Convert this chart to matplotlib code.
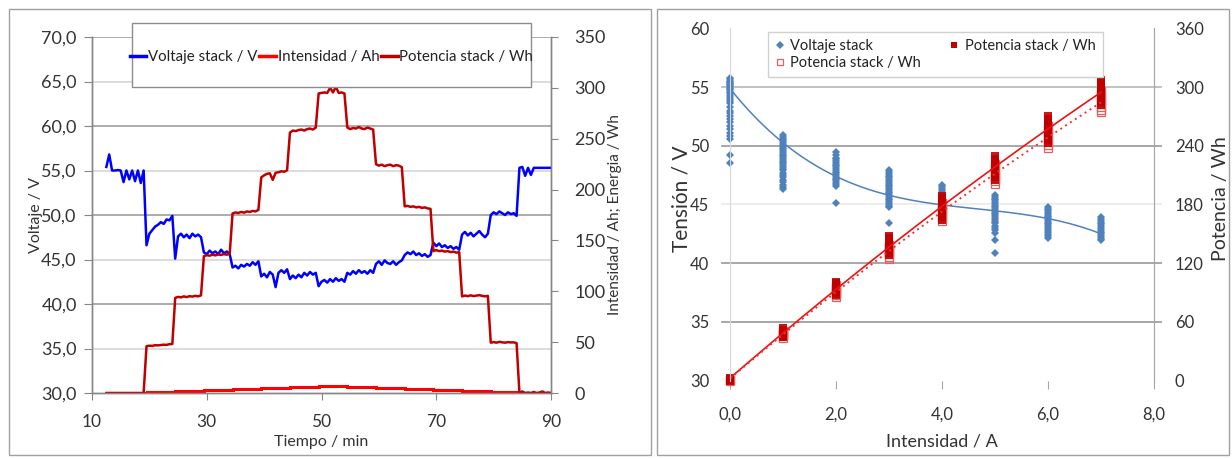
import numpy as np
import matplotlib
matplotlib.use("Agg")
import matplotlib.pyplot as plt
from matplotlib.patches import Rectangle
from matplotlib.lines import Line2D
from matplotlib.ticker import FixedLocator, FuncFormatter

plt.rcParams['font.family'] = ['Lato', 'DejaVu Sans']

W, H = 1232, 459

# ---------------- Ensayo en el tiempo (lecturas cada 0,5 min) ----------------
tiempo_min = np.arange(12.5, 90.01, 0.5)

voltaje_stack_v = [
    55.4, 56.8, 55.0, 55.0, 55.05, 55.0, 53.7, 55.0, 54.0, 55.0, 53.8, 55.0, 53.6, 55.0,
    46.6, 47.9, 48.3, 48.7, 48.9, 49.2, 49.0, 49.5, 49.4, 49.9,
    45.1, 47.6, 47.9, 47.5, 47.8, 47.4, 47.9, 47.6, 47.8, 47.5,
    45.8, 45.6, 46.0, 45.7, 45.9, 45.6, 46.1, 45.7, 45.9, 45.6,
    44.1, 44.3, 44.0, 44.4, 44.2, 44.5, 44.3, 44.7, 44.4, 44.8,
    43.1, 43.4, 43.0, 43.6, 43.3, 41.9, 43.5, 43.8, 43.5, 43.9,
    42.8, 43.2, 42.9, 43.3, 43.0, 43.5, 43.2, 43.6, 43.3, 43.5,
    42.0, 42.5, 42.7, 42.4, 42.8, 42.5, 42.9, 42.6, 42.8, 42.5,
    43.5, 43.3, 43.7, 43.4, 43.8, 43.5, 43.7, 43.4, 43.8, 43.5,
    44.5, 44.8, 44.4, 44.9, 44.6, 44.5, 44.8, 44.4, 44.7, 44.9,
    45.5, 45.8, 45.6, 45.9, 45.5, 45.7, 45.4, 45.6, 45.3, 45.5,
    46.9, 46.5, 46.8, 46.4, 46.6, 46.3, 46.5, 46.2, 46.4, 46.1,
    47.8, 48.1, 47.7, 48.0, 47.6, 47.9, 48.2, 47.8, 47.5, 47.9,
    50.0, 50.3, 50.1, 50.4, 50.2, 50.0, 50.3, 50.1, 50.2, 49.9,
    55.3, 55.4, 54.4, 55.3, 54.5, 55.3, 55.3, 55.3, 55.3, 55.3, 55.3, 55.3,
]

potencia_stack_wh = [
    0, 0, 0, 0, 0, 0, 0, 0, 0, 0, 0, 0, 0, 0,
    46.0, 46.5, 46.3, 47.0, 46.8, 47.2, 47.5, 47.3, 48.0, 48.2,
    93.5, 94.5, 94.0, 95.0, 94.3, 95.2, 94.8, 95.5, 95.0, 96.0,
    134.5, 135.5, 135.0, 136.0, 135.3, 136.2, 135.8, 136.5, 136.0, 137.0,
    176.5, 177.5, 177.0, 178.0, 177.3, 178.5, 178.0, 179.0, 178.5, 180.0,
    212.0, 214.0, 215.5, 216.0, 209.5, 216.5, 217.0, 218.0, 217.5, 219.0,
    256.0, 258.0, 257.5, 258.5, 259.0, 258.0, 259.5, 260.0, 259.0, 261.0,
    294.5, 295.0, 295.5, 295.0, 300.0, 295.5, 301.0, 295.0, 295.5, 294.5,
    261.0, 259.5, 260.5, 260.0, 261.5, 260.0, 259.5, 261.0, 260.0, 259.0,
    225.0, 223.5, 224.5, 223.0, 224.0, 224.5, 223.0, 224.0, 223.5, 222.0,
    183.5, 184.0, 183.0, 183.5, 182.5, 183.0, 182.0, 182.5, 181.5, 181.0,
    139.5, 140.5, 139.5, 140.0, 139.0, 139.5, 138.5, 139.0, 138.0, 138.5,
    95.0, 95.8, 95.2, 96.0, 95.3, 95.8, 96.2, 95.5, 95.0, 95.5,
    49.5, 50.0, 49.5, 50.3, 49.8, 49.5, 50.0, 49.7, 49.8, 49.0,
    0, 1.5, 0, 0.5, 0, 1.0, 0, 0.5, 1.5, 0, 0.5, 0,
]

limites_tramo_min = [12.5, 19.5, 24.5, 29.5, 34.5, 39.5, 44.5, 49.5, 54.5,
                     59.5, 64.5, 69.5, 74.5, 79.5, 84.5, 90.0]
intensidad_tramo = [0, 1, 2, 3, 4, 5, 6, 7, 6, 5, 4, 3, 2, 1, 0]

# ---------------- Curva de polarización ----------------
niveles_a = [0, 1, 2, 3, 4, 5, 6, 7]

tension_0a = [55.75, 55.65, 55.55, 55.45, 55.35, 55.25, 55.15, 55.05, 54.95, 54.85,
              54.75, 54.6, 54.45, 54.3, 54.15, 54.0, 53.8, 53.6, 53.3, 53.0, 52.8,
              52.5, 52.3, 52.0, 51.7, 51.4, 51.1, 50.8, 50.6, 49.2, 48.5]
tension_1a = [50.9, 50.75, 50.6, 50.45, 50.3, 50.15, 50.0, 49.85, 49.7, 49.55, 49.4,
              49.25, 49.1, 48.95, 48.8, 48.65, 48.5, 48.35, 48.2, 48.05, 47.9, 47.7,
              47.5, 47.3, 47.1, 46.9, 46.7, 46.5, 46.3]
tension_2a = [49.5, 49.2, 49.0, 48.85, 48.7, 48.55, 48.4, 48.25, 48.1, 47.95, 47.8,
              47.65, 47.5, 47.35, 47.2, 47.05, 46.9, 46.75, 46.6, 45.1]
tension_3a = [47.9, 47.75, 47.6, 47.45, 47.3, 47.15, 47.0, 46.85, 46.7, 46.55, 46.4,
              46.25, 46.1, 45.95, 45.8, 45.65, 45.5, 45.35, 45.2, 45.05, 44.9, 44.75,
              43.4]
tension_4a = [46.7, 46.55, 46.4, 46.25, 46.1, 45.95, 45.8, 45.65, 45.5, 45.35, 45.2,
              45.05, 44.9, 44.75, 44.6, 44.45, 44.3, 44.1, 43.9]
tension_5a = [45.8, 45.65, 45.5, 45.35, 45.2, 45.05, 44.9, 44.75, 44.6, 44.45, 44.3,
              44.15, 44.0, 43.85, 43.7, 43.55, 43.4, 43.2, 43.0, 42.8, 42.6, 42.0, 40.9]
tension_6a = [44.8, 44.65, 44.5, 44.35, 44.2, 44.05, 43.9, 43.75, 43.6, 43.45, 43.3,
              43.15, 43.0, 42.85, 42.7, 42.5, 42.3, 42.15]
tension_7a = [43.9, 43.75, 43.6, 43.45, 43.3, 43.15, 43.0, 42.85, 42.7, 42.55, 42.4,
              42.25, 42.1, 41.95]

potencia_0a = [0, 0.5, 1.0, 1.5, 2.0, 2.5]
potencia_1a = [45, 46, 47, 47.5, 48, 48.5, 49, 49.5, 50, 51, 52, 53.5]
potencia_2a = [88, 89.5, 91, 92, 93, 94, 95, 95.5, 96.5, 98, 99.5, 101]
potencia_3a = [128, 130, 132, 133.5, 135, 136, 137, 138, 139.5, 141, 143, 145.5, 148]
potencia_4a = [164, 167, 170, 172.5, 175, 177, 178.5, 180, 182, 184, 186.5, 189]
potencia_5a = [205, 208, 211, 213.5, 215.5, 217.5, 219, 220.5, 222, 224, 226.5, 229.5]
potencia_6a = [243, 246, 249, 251.5, 254, 256, 258, 260, 262, 264.5, 267.5, 270.5]
potencia_7a = [282, 285, 288, 290.5, 293, 295, 297, 299, 301, 303, 305, 307]

potencia_b_0a = [0, 0.5, 1.0]
potencia_b_1a = [44, 45.5, 46.5, 47.5, 48.5, 49.5, 50.5]
potencia_b_2a = [86, 88, 90, 91.5, 93, 94.5, 96, 98]
potencia_b_3a = [124, 126.5, 129, 131, 133, 135, 137, 139]
potencia_b_4a = [163, 166, 169, 171.5, 174, 176.5, 179, 182]
potencia_b_5a = [201, 204, 207, 209.5, 212, 214.5, 217, 221]
potencia_b_6a = [238, 241, 244, 247, 250, 253, 256, 260]
potencia_b_7a = [274, 277, 280, 283, 286, 289, 292, 296]

# puntos de la línea de tendencia de la tensión
tendencia_i = [0, 1, 2, 3, 4, 5, 6, 7]
tendencia_v = [54.9, 50.2, 47.4, 45.8, 45.0, 44.5, 43.7, 42.55]

grupos_tension = [tension_0a, tension_1a, tension_2a, tension_3a,
                  tension_4a, tension_5a, tension_6a, tension_7a]
grupos_potencia = [potencia_0a, potencia_1a, potencia_2a, potencia_3a,
                   potencia_4a, potencia_5a, potencia_6a, potencia_7a]
grupos_potencia_b = [potencia_b_0a, potencia_b_1a, potencia_b_2a, potencia_b_3a,
                     potencia_b_4a, potencia_b_5a, potencia_b_6a, potencia_b_7a]


def aplanar(niveles, grupos):
    xs, ys = [], []
    for n, g in zip(niveles, grupos):
        xs += [n] * len(g)
        ys += list(g)
    return np.array(xs, float), np.array(ys, float)


def px_box(x0, y0, x1, y1):
    """Rectángulo en coordenadas de figura a partir de píxeles (origen arriba)."""
    return [x0 / W, 1 - y1 / H, (x1 - x0) / W, (y1 - y0) / H]


fig = plt.figure(figsize=(W / 100, H / 100), dpi=100)
fig.patch.set_facecolor('white')

GRIS = '#868686'
GRIS_OSC = '#a6a6a6'
GRIS_CLARO = '#d9d9d9'
TEXTO = '#333333'
coma1 = FuncFormatter(lambda v, p: f"{v:.1f}".replace('.', ','))
entero = FuncFormatter(lambda v, p: f"{v:.0f}")

# marcos de los dos paneles
for caja in (px_box(9, 9, 651, 455), px_box(657, 9, 1229, 455)):
    fig.add_artist(Rectangle((caja[0], caja[1]), caja[2], caja[3], transform=fig.transFigure,
                             fill=False, edgecolor='#a0a0a0', lw=1.0, zorder=0))

# ======================= Panel izquierdo =======================
ax = fig.add_axes(px_box(92, 37, 551, 393))
ax2 = ax.twinx()

ax.set_xlim(10, 90)
ax.set_ylim(30, 70)
ax2.set_ylim(0, 350)

for v in [35, 40, 45, 50, 55, 60, 65, 70]:
    ax.axhline(v, color=GRIS_OSC if v % 10 == 0 else GRIS_CLARO, lw=1.3, zorder=0)

ax.plot(tiempo_min, voltaje_stack_v, color='#0000ff', lw=1.8, zorder=3)
ax2.stairs(intensidad_tramo, limites_tramo_min, baseline=None, color='#ff0000', lw=2.2)
ax2.plot(tiempo_min, potencia_stack_wh, color='#c00000', lw=1.8)

ax.xaxis.set_major_locator(FixedLocator([10, 30, 50, 70, 90]))
ax.yaxis.set_major_locator(FixedLocator(np.arange(30, 70.1, 5)))
ax.yaxis.set_major_formatter(coma1)
ax2.yaxis.set_major_locator(FixedLocator(np.arange(0, 351, 50)))
ax2.yaxis.set_major_formatter(entero)

for a in (ax, ax2):
    a.spines['top'].set_visible(False)
    for s in ('left', 'right', 'bottom'):
        a.spines[s].set_color(GRIS)
        a.spines[s].set_linewidth(1.0)
ax.tick_params(axis='y', length=6, color=GRIS, labelsize=13, pad=5, labelcolor=TEXTO)
ax.tick_params(axis='x', length=5, color=GRIS, labelsize=12.5, pad=10, labelcolor=TEXTO)
ax2.tick_params(axis='y', length=5, color=GRIS, labelsize=13, pad=12, labelcolor=TEXTO)

ax.set_xlabel('Tiempo / min', fontsize=11.5, color=TEXTO)
ax.xaxis.set_label_coords(0.5, -0.118)
ax.set_ylabel('Voltaje / V', fontsize=11.5, color=TEXTO)
ax.yaxis.set_label_coords(-0.106, 0.5)
ax2.set_ylabel('Intensidad / Ah; Energia / Wh', fontsize=11, color=TEXTO)
ax2.yaxis.set_label_coords(1.124, 0.5)

# leyenda del panel izquierdo
lb = px_box(132, 23, 531, 87)
fig.add_artist(Rectangle((lb[0], lb[1]), lb[2], lb[3], transform=fig.transFigure,
                         facecolor='white', edgecolor='#8c8c8c', lw=1.0, zorder=8))
hl = [Line2D([], [], color='#0000ff', lw=2.5),
      Line2D([], [], color='#ff0000', lw=2.5),
      Line2D([], [], color='#c00000', lw=2.5)]
leg1 = fig.legend(hl, ['Voltaje stack / V', 'Intensidad / Ah', 'Potencia stack / Wh'],
                  loc='center', bbox_to_anchor=(lb[0] + lb[2] / 2, 1 - 57 / H),
                  bbox_transform=fig.transFigure, ncol=3, frameon=False,
                  fontsize=10.8, handlelength=1.1, handletextpad=0.12,
                  columnspacing=0.12, borderpad=0, borderaxespad=0)
leg1.set_zorder(9)
for t in leg1.get_texts():
    t.set_color('#222222')

# ======================= Panel derecho =======================
bx = fig.add_axes(px_box(730, 28.3, 1154, 380.7))
bx2 = bx.twinx()
bx.set_xlim(0, 8)
bx.set_ylim(30, 60)
bx2.set_ylim(0, 360)

for v, c in [(35, '#a0a0a0'), (40, '#a0a0a0'), (45, '#ececec'), (50, '#a0a0a0'), (55, '#bdbdbd')]:
    bx.plot([-8 / 424, 1 + 7 / 424], [v, v], transform=bx.get_yaxis_transform(),
            color=c, lw=1.3, clip_on=False, zorder=0)

xi, yv = aplanar(niveles_a, grupos_tension)
bx.plot(xi, yv, linestyle='none', marker='D', ms=4.0, color='#4f81bd',
        markeredgewidth=0, zorder=3, clip_on=False)
coef_v = np.polyfit(tendencia_i, tendencia_v, 3)
xs = np.linspace(0, 7, 200)
bx.plot(xs, np.polyval(coef_v, xs), color='#4f81bd', lw=1.1, zorder=2)

xb, pb = aplanar(niveles_a, grupos_potencia_b)
xa, pa = aplanar(niveles_a, grupos_potencia)
bx2.plot(xb, pb, linestyle='none', marker='s', ms=6.0, markerfacecolor='none',
         markeredgecolor='#e06060', markeredgewidth=0.9, clip_on=False)
bx2.plot(xa, pa, linestyle='none', marker='s', ms=6.2, color='#c00000',
         markeredgewidth=0, alpha=0.9, clip_on=False)
coef_a = np.polyfit(xa, pa, 2)
coef_b = np.polyfit(xb, pb, 2)
bx2.plot(xs, np.polyval(coef_a, xs), color='#ee1111', lw=1.2)
bx2.plot(xs, np.polyval(coef_b, xs), color='#ee3333', lw=1.4, linestyle=(0, (1, 2)))

bx.xaxis.set_major_locator(FixedLocator([0, 2, 4, 6, 8]))
bx.xaxis.set_major_formatter(coma1)
bx.yaxis.set_major_locator(FixedLocator(np.arange(30, 61, 5)))
bx.yaxis.set_major_formatter(entero)
bx2.yaxis.set_major_locator(FixedLocator(np.arange(0, 361, 60)))
bx2.yaxis.set_major_formatter(entero)

for a in (bx, bx2):
    a.spines['top'].set_visible(False)
    a.spines['bottom'].set_visible(False)
    a.spines['left'].set_color(GRIS_CLARO)
    a.spines['right'].set_color(GRIS_OSC)
bx.tick_params(axis='x', length=6, color=GRIS_OSC, labelsize=12, pad=13, labelcolor=TEXTO)
bx.tick_params(axis='y', length=0, labelsize=12, pad=15, labelcolor=TEXTO)
bx2.tick_params(axis='y', length=0, labelsize=12, pad=15, labelcolor=TEXTO)

bx.set_xlabel('Intensidad / A', fontsize=13, color=TEXTO)
bx.xaxis.set_label_coords(0.5, -0.151)
bx.set_ylabel('Tensión / V', fontsize=15, color=TEXTO)
bx.yaxis.set_label_coords(-0.09, 0.516)
bx2.set_ylabel('Potencia / Wh', fontsize=14, color=TEXTO)
bx2.yaxis.set_label_coords(1.137, 0.516)

# leyenda del panel derecho
rb = px_box(768, 32, 1103, 77)
fig.add_artist(Rectangle((rb[0], rb[1]), rb[2], rb[3], transform=fig.transFigure,
                         facecolor='white', edgecolor='#d0d0d0', lw=1.0, zorder=8))
hr = [Line2D([], [], linestyle='none', marker='D', ms=3.6, color='#4f81bd', markeredgewidth=0),
      Line2D([], [], linestyle='none', marker='s', ms=5, markerfacecolor='white',
             markeredgecolor='#e06060', markeredgewidth=0.9),
      Line2D([], [], linestyle='none', marker='s', ms=5, color='#c00000', markeredgewidth=0)]
leg2 = fig.legend(hr, ['Voltaje stack', 'Potencia stack / Wh', 'Potencia stack / Wh'],
                  loc='center', bbox_to_anchor=(rb[0] + rb[2] / 2, rb[1] + rb[3] / 2),
                  bbox_transform=fig.transFigure, ncol=2, frameon=False,
                  fontsize=10.5, handlelength=0.6, handletextpad=0.4,
                  columnspacing=2.0, labelspacing=0.25, borderpad=0, borderaxespad=0)
leg2.set_zorder(9)
for t in leg2.get_texts():
    t.set_color('#222222')

fig.savefig('out.png', dpi=100)
